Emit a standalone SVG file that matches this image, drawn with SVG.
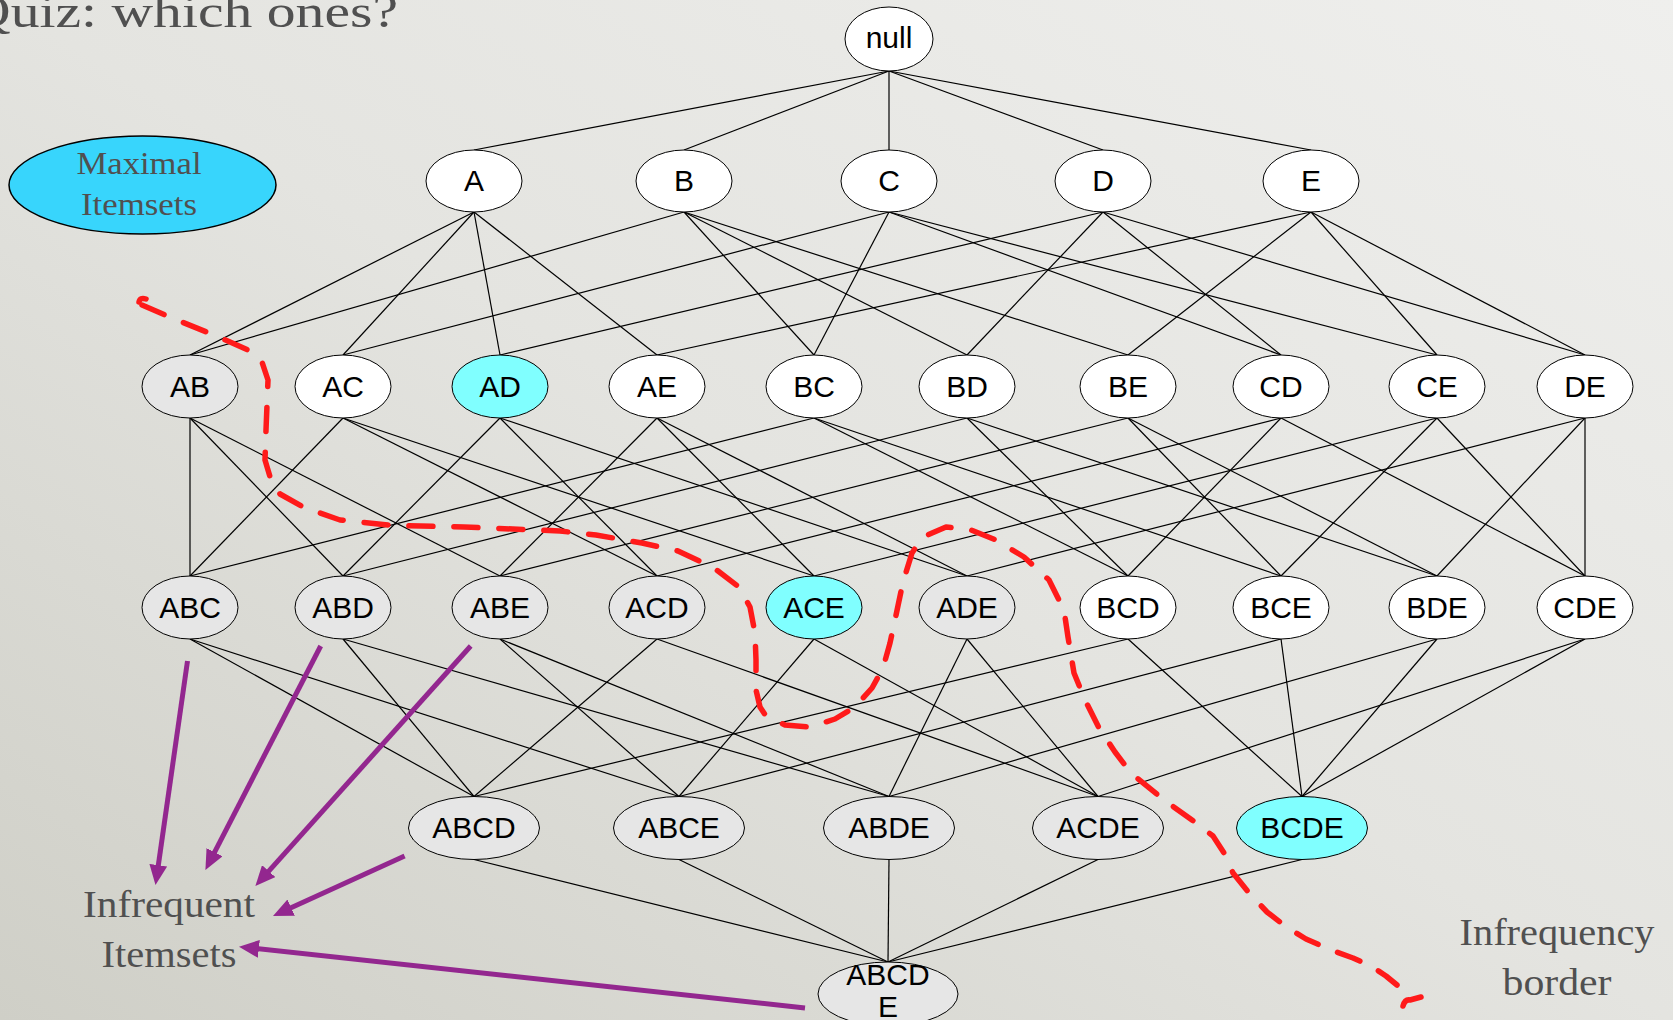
<svg xmlns="http://www.w3.org/2000/svg" width="1673" height="1020" viewBox="0 0 1673 1020">
  <defs>
    <linearGradient id="bg" x1="1" y1="0" x2="0" y2="1">
      <stop offset="0" stop-color="#efefed"/>
      <stop offset="0.5" stop-color="#e4e4e0"/>
      <stop offset="1" stop-color="#cfcfc7"/>
    </linearGradient>
    <marker id="head" viewBox="0 0 20 18" refX="8" refY="9" markerWidth="20" markerHeight="18" markerUnits="userSpaceOnUse" orient="auto">
      <path d="M0,0 L20,9 L0,18 z" fill="#93278f"/>
    </marker>
    <style>
      .edge { stroke: #000; stroke-width: 1.2; fill: none; }
      .node ellipse { stroke: #000; stroke-width: 1; }
      .w { fill: #ffffff; }
      .g { fill: #e6e6e6; }
      .c { fill: #80ffff; }
      .lbl { font-family: "Liberation Sans", Arial, sans-serif; font-size: 30px; fill: #000; text-anchor: middle; }
      .note { font-family: "Liberation Serif", "Times New Roman", serif; fill: #505050; text-anchor: middle; }
      .title { font-family: "Liberation Serif", "Times New Roman", serif; fill: #505050; text-anchor: start; font-size: 46px; }
      .border { fill: none; stroke: #ff1a1a; stroke-width: 5.5; stroke-linecap: round; stroke-linejoin: round; }
      .pointer { fill: none; stroke: #93278f; stroke-width: 5; marker-end: url(#head); }
    </style>
  </defs>

  <rect width="1673" height="1020" fill="url(#bg)"/>

  <text class="title" x="-31" y="27" textLength="429" lengthAdjust="spacingAndGlyphs">Quiz: which ones?</text>

  <g id="legend-maximal">
    <ellipse cx="142.5" cy="185" rx="133.5" ry="49" fill="#38d5fc" stroke="#000" stroke-width="1.5"/>
    <text class="note" x="139" y="174" font-size="31" textLength="125" lengthAdjust="spacingAndGlyphs">Maximal</text>
    <text class="note" x="139" y="215" font-size="31" textLength="116" lengthAdjust="spacingAndGlyphs">Itemsets</text>
  </g>

  <g id="connectors">
    <!-- null to singletons -->
    <line class="edge" x1="889" y1="71" x2="474" y2="150"/>
    <line class="edge" x1="889" y1="71" x2="684" y2="150"/>
    <line class="edge" x1="889" y1="71" x2="889" y2="150"/>
    <line class="edge" x1="889" y1="71" x2="1103" y2="150"/>
    <line class="edge" x1="889" y1="71" x2="1311" y2="150"/>
    <!-- singletons to pairs -->
    <line class="edge" x1="474" y1="212" x2="190" y2="355"/>
    <line class="edge" x1="474" y1="212" x2="343" y2="355"/>
    <line class="edge" x1="474" y1="212" x2="500" y2="355"/>
    <line class="edge" x1="474" y1="212" x2="657" y2="355"/>
    <line class="edge" x1="684" y1="212" x2="190" y2="355"/>
    <line class="edge" x1="684" y1="212" x2="814" y2="355"/>
    <line class="edge" x1="684" y1="212" x2="967" y2="355"/>
    <line class="edge" x1="684" y1="212" x2="1128" y2="355"/>
    <line class="edge" x1="889" y1="212" x2="343" y2="355"/>
    <line class="edge" x1="889" y1="212" x2="814" y2="355"/>
    <line class="edge" x1="889" y1="212" x2="1281" y2="355"/>
    <line class="edge" x1="889" y1="212" x2="1437" y2="355"/>
    <line class="edge" x1="1103" y1="212" x2="500" y2="355"/>
    <line class="edge" x1="1103" y1="212" x2="967" y2="355"/>
    <line class="edge" x1="1103" y1="212" x2="1281" y2="355"/>
    <line class="edge" x1="1103" y1="212" x2="1585" y2="355"/>
    <line class="edge" x1="1311" y1="212" x2="657" y2="355"/>
    <line class="edge" x1="1311" y1="212" x2="1128" y2="355"/>
    <line class="edge" x1="1311" y1="212" x2="1437" y2="355"/>
    <line class="edge" x1="1311" y1="212" x2="1585" y2="355"/>
    <!-- pairs to triples -->
    <line class="edge" x1="190" y1="418" x2="190" y2="576"/>
    <line class="edge" x1="343" y1="418" x2="190" y2="576"/>
    <line class="edge" x1="814" y1="418" x2="190" y2="576"/>
    <line class="edge" x1="190" y1="418" x2="343" y2="576"/>
    <line class="edge" x1="500" y1="418" x2="343" y2="576"/>
    <line class="edge" x1="967" y1="418" x2="343" y2="576"/>
    <line class="edge" x1="190" y1="418" x2="500" y2="576"/>
    <line class="edge" x1="657" y1="418" x2="500" y2="576"/>
    <line class="edge" x1="1128" y1="418" x2="500" y2="576"/>
    <line class="edge" x1="343" y1="418" x2="657" y2="576"/>
    <line class="edge" x1="500" y1="418" x2="657" y2="576"/>
    <line class="edge" x1="1281" y1="418" x2="657" y2="576"/>
    <line class="edge" x1="343" y1="418" x2="814" y2="576"/>
    <line class="edge" x1="657" y1="418" x2="814" y2="576"/>
    <line class="edge" x1="1437" y1="418" x2="814" y2="576"/>
    <line class="edge" x1="500" y1="418" x2="967" y2="576"/>
    <line class="edge" x1="657" y1="418" x2="967" y2="576"/>
    <line class="edge" x1="1585" y1="418" x2="967" y2="576"/>
    <line class="edge" x1="814" y1="418" x2="1128" y2="576"/>
    <line class="edge" x1="967" y1="418" x2="1128" y2="576"/>
    <line class="edge" x1="1281" y1="418" x2="1128" y2="576"/>
    <line class="edge" x1="814" y1="418" x2="1281" y2="576"/>
    <line class="edge" x1="1128" y1="418" x2="1281" y2="576"/>
    <line class="edge" x1="1437" y1="418" x2="1281" y2="576"/>
    <line class="edge" x1="967" y1="418" x2="1437" y2="576"/>
    <line class="edge" x1="1128" y1="418" x2="1437" y2="576"/>
    <line class="edge" x1="1585" y1="418" x2="1437" y2="576"/>
    <line class="edge" x1="1281" y1="418" x2="1585" y2="576"/>
    <line class="edge" x1="1437" y1="418" x2="1585" y2="576"/>
    <line class="edge" x1="1585" y1="418" x2="1585" y2="576"/>
    <!-- triples to quadruples -->
    <line class="edge" x1="190" y1="639" x2="474" y2="796.5"/>
    <line class="edge" x1="343" y1="639" x2="474" y2="796.5"/>
    <line class="edge" x1="657" y1="639" x2="474" y2="796.5"/>
    <line class="edge" x1="1128" y1="639" x2="474" y2="796.5"/>
    <line class="edge" x1="190" y1="639" x2="679" y2="796.5"/>
    <line class="edge" x1="500" y1="639" x2="679" y2="796.5"/>
    <line class="edge" x1="814" y1="639" x2="679" y2="796.5"/>
    <line class="edge" x1="1281" y1="639" x2="679" y2="796.5"/>
    <line class="edge" x1="343" y1="639" x2="889" y2="796.5"/>
    <line class="edge" x1="500" y1="639" x2="889" y2="796.5"/>
    <line class="edge" x1="967" y1="639" x2="889" y2="796.5"/>
    <line class="edge" x1="1437" y1="639" x2="889" y2="796.5"/>
    <line class="edge" x1="657" y1="639" x2="1098" y2="796.5"/>
    <line class="edge" x1="814" y1="639" x2="1098" y2="796.5"/>
    <line class="edge" x1="967" y1="639" x2="1098" y2="796.5"/>
    <line class="edge" x1="1585" y1="639" x2="1098" y2="796.5"/>
    <line class="edge" x1="1128" y1="639" x2="1302" y2="796.5"/>
    <line class="edge" x1="1281" y1="639" x2="1302" y2="796.5"/>
    <line class="edge" x1="1437" y1="639" x2="1302" y2="796.5"/>
    <line class="edge" x1="1585" y1="639" x2="1302" y2="796.5"/>
    <!-- quadruples to full set -->
    <line class="edge" x1="474" y1="859.5" x2="888" y2="962"/>
    <line class="edge" x1="679" y1="859.5" x2="888" y2="962"/>
    <line class="edge" x1="889" y1="859.5" x2="888" y2="962"/>
    <line class="edge" x1="1098" y1="859.5" x2="888" y2="962"/>
    <line class="edge" x1="1302" y1="859.5" x2="888" y2="962"/>
  </g>

  <g id="n-null" class="node"><ellipse class="w" cx="889" cy="39" rx="44" ry="32"/><text class="lbl" x="889" y="48" font-size="29">null</text></g>

  <g id="n-A" class="node"><ellipse class="w" cx="474" cy="181" rx="48" ry="31"/><text class="lbl" x="474" y="191">A</text></g>
  <g id="n-B" class="node"><ellipse class="w" cx="684" cy="181" rx="48" ry="31"/><text class="lbl" x="684" y="191">B</text></g>
  <g id="n-C" class="node"><ellipse class="w" cx="889" cy="181" rx="48" ry="31"/><text class="lbl" x="889" y="191">C</text></g>
  <g id="n-D" class="node"><ellipse class="w" cx="1103" cy="181" rx="48" ry="31"/><text class="lbl" x="1103" y="191">D</text></g>
  <g id="n-E" class="node"><ellipse class="w" cx="1311" cy="181" rx="48" ry="31"/><text class="lbl" x="1311" y="191">E</text></g>

  <g id="n-AB" class="node"><ellipse class="g" cx="190" cy="386.5" rx="48" ry="31.5"/><text class="lbl" x="190" y="396.5">AB</text></g>
  <g id="n-AC" class="node"><ellipse class="w" cx="343" cy="386.5" rx="48" ry="31.5"/><text class="lbl" x="343" y="396.5">AC</text></g>
  <g id="n-AD" class="node"><ellipse class="c" cx="500" cy="386.5" rx="48" ry="31.5"/><text class="lbl" x="500" y="396.5">AD</text></g>
  <g id="n-AE" class="node"><ellipse class="w" cx="657" cy="386.5" rx="48" ry="31.5"/><text class="lbl" x="657" y="396.5">AE</text></g>
  <g id="n-BC" class="node"><ellipse class="w" cx="814" cy="386.5" rx="48" ry="31.5"/><text class="lbl" x="814" y="396.5">BC</text></g>
  <g id="n-BD" class="node"><ellipse class="w" cx="967" cy="386.5" rx="48" ry="31.5"/><text class="lbl" x="967" y="396.5">BD</text></g>
  <g id="n-BE" class="node"><ellipse class="w" cx="1128" cy="386.5" rx="48" ry="31.5"/><text class="lbl" x="1128" y="396.5">BE</text></g>
  <g id="n-CD" class="node"><ellipse class="w" cx="1281" cy="386.5" rx="48" ry="31.5"/><text class="lbl" x="1281" y="396.5">CD</text></g>
  <g id="n-CE" class="node"><ellipse class="w" cx="1437" cy="386.5" rx="48" ry="31.5"/><text class="lbl" x="1437" y="396.5">CE</text></g>
  <g id="n-DE" class="node"><ellipse class="w" cx="1585" cy="386.5" rx="48" ry="31.5"/><text class="lbl" x="1585" y="396.5">DE</text></g>

  <g id="n-ABC" class="node"><ellipse class="g" cx="190" cy="607.5" rx="48" ry="31.5"/><text class="lbl" x="190" y="617.5">ABC</text></g>
  <g id="n-ABD" class="node"><ellipse class="g" cx="343" cy="607.5" rx="48" ry="31.5"/><text class="lbl" x="343" y="617.5">ABD</text></g>
  <g id="n-ABE" class="node"><ellipse class="g" cx="500" cy="607.5" rx="48" ry="31.5"/><text class="lbl" x="500" y="617.5">ABE</text></g>
  <g id="n-ACD" class="node"><ellipse class="g" cx="657" cy="607.5" rx="48" ry="31.5"/><text class="lbl" x="657" y="617.5">ACD</text></g>
  <g id="n-ACE" class="node"><ellipse class="c" cx="814" cy="607.5" rx="48" ry="31.5"/><text class="lbl" x="814" y="617.5">ACE</text></g>
  <g id="n-ADE" class="node"><ellipse class="g" cx="967" cy="607.5" rx="48" ry="31.5"/><text class="lbl" x="967" y="617.5">ADE</text></g>
  <g id="n-BCD" class="node"><ellipse class="w" cx="1128" cy="607.5" rx="48" ry="31.5"/><text class="lbl" x="1128" y="617.5">BCD</text></g>
  <g id="n-BCE" class="node"><ellipse class="w" cx="1281" cy="607.5" rx="48" ry="31.5"/><text class="lbl" x="1281" y="617.5">BCE</text></g>
  <g id="n-BDE" class="node"><ellipse class="w" cx="1437" cy="607.5" rx="48" ry="31.5"/><text class="lbl" x="1437" y="617.5">BDE</text></g>
  <g id="n-CDE" class="node"><ellipse class="w" cx="1585" cy="607.5" rx="48" ry="31.5"/><text class="lbl" x="1585" y="617.5">CDE</text></g>

  <g id="n-ABCD" class="node"><ellipse class="g" cx="474" cy="828" rx="65.5" ry="31.5"/><text class="lbl" x="474" y="838">ABCD</text></g>
  <g id="n-ABCE" class="node"><ellipse class="g" cx="679" cy="828" rx="65.5" ry="31.5"/><text class="lbl" x="679" y="838">ABCE</text></g>
  <g id="n-ABDE" class="node"><ellipse class="g" cx="889" cy="828" rx="65.5" ry="31.5"/><text class="lbl" x="889" y="838">ABDE</text></g>
  <g id="n-ACDE" class="node"><ellipse class="g" cx="1098" cy="828" rx="65.5" ry="31.5"/><text class="lbl" x="1098" y="838">ACDE</text></g>
  <g id="n-BCDE" class="node"><ellipse class="c" cx="1302" cy="828" rx="65.5" ry="31.5"/><text class="lbl" x="1302" y="838">BCDE</text></g>

  <g id="n-ABCDE" class="node"><ellipse class="g" cx="888" cy="994" rx="70" ry="32"/><text class="lbl" x="888" y="985">ABCD</text><text class="lbl" x="888" y="1017">E</text></g>

  <g id="infrequency-border">
    <path class="border" stroke-width="4" d="M139,302 Q140,297 146,299"/>
    <path class="border" stroke-dasharray="24 21" d="M142,305 L172,318 L214,335 L248,350 L262,362 L268,380 L267,405 L266,430 L265,460 L271,480 L280,494 L303,507 L340,520 L393,525.5 L464,527 L560,531 L596,535 L642,543 L678,551 L714,568 L739,587 L750,607 L755,633 L756,660 L756,690 L760,707 L766,716 L785,725 L810,727 L835,719 L855,707 L872,688 L883,668 L890,643 L895,620 L903,582 L912,553 L923,537 L946,527 L971,530 L996,540 L1024,557 L1049,580 L1064,610 L1068,637 L1074,673 L1085,700 L1099,728 L1115,752 L1131,773 L1164,800 L1192,820 L1213,836 L1224,853 L1233,873 L1249,893 L1267,912 L1285,926 L1306,939 L1331,950 L1353,958 L1371,966 L1386,976 L1397,985"/>
    <path class="border" stroke-width="4.5" d="M1403,1006 Q1405,999 1410,1000 L1421,997"/>
  </g>

  <g id="pointers">
    <line class="pointer" x1="187.5" y1="661" x2="157.2" y2="873.1"/>
    <line class="pointer" x1="320.7" y1="646" x2="210.9" y2="859.3"/>
    <line class="pointer" x1="470.7" y1="646" x2="263.4" y2="877.1"/>
    <line class="pointer" x1="404.6" y1="856" x2="283.9" y2="911"/>
    <line class="pointer" x1="805" y1="1008" x2="250.9" y2="948"/>
  </g>

  <g id="label-infrequent">
    <text class="note" x="169" y="917" font-size="37" textLength="172" lengthAdjust="spacingAndGlyphs">Infrequent</text>
    <text class="note" x="169" y="967" font-size="37" textLength="135" lengthAdjust="spacingAndGlyphs">Itemsets</text>
  </g>

  <g id="label-border">
    <text class="note" x="1557" y="945" font-size="37" textLength="195" lengthAdjust="spacingAndGlyphs">Infrequency</text>
    <text class="note" x="1557" y="995" font-size="37" textLength="109" lengthAdjust="spacingAndGlyphs">border</text>
  </g>
</svg>
